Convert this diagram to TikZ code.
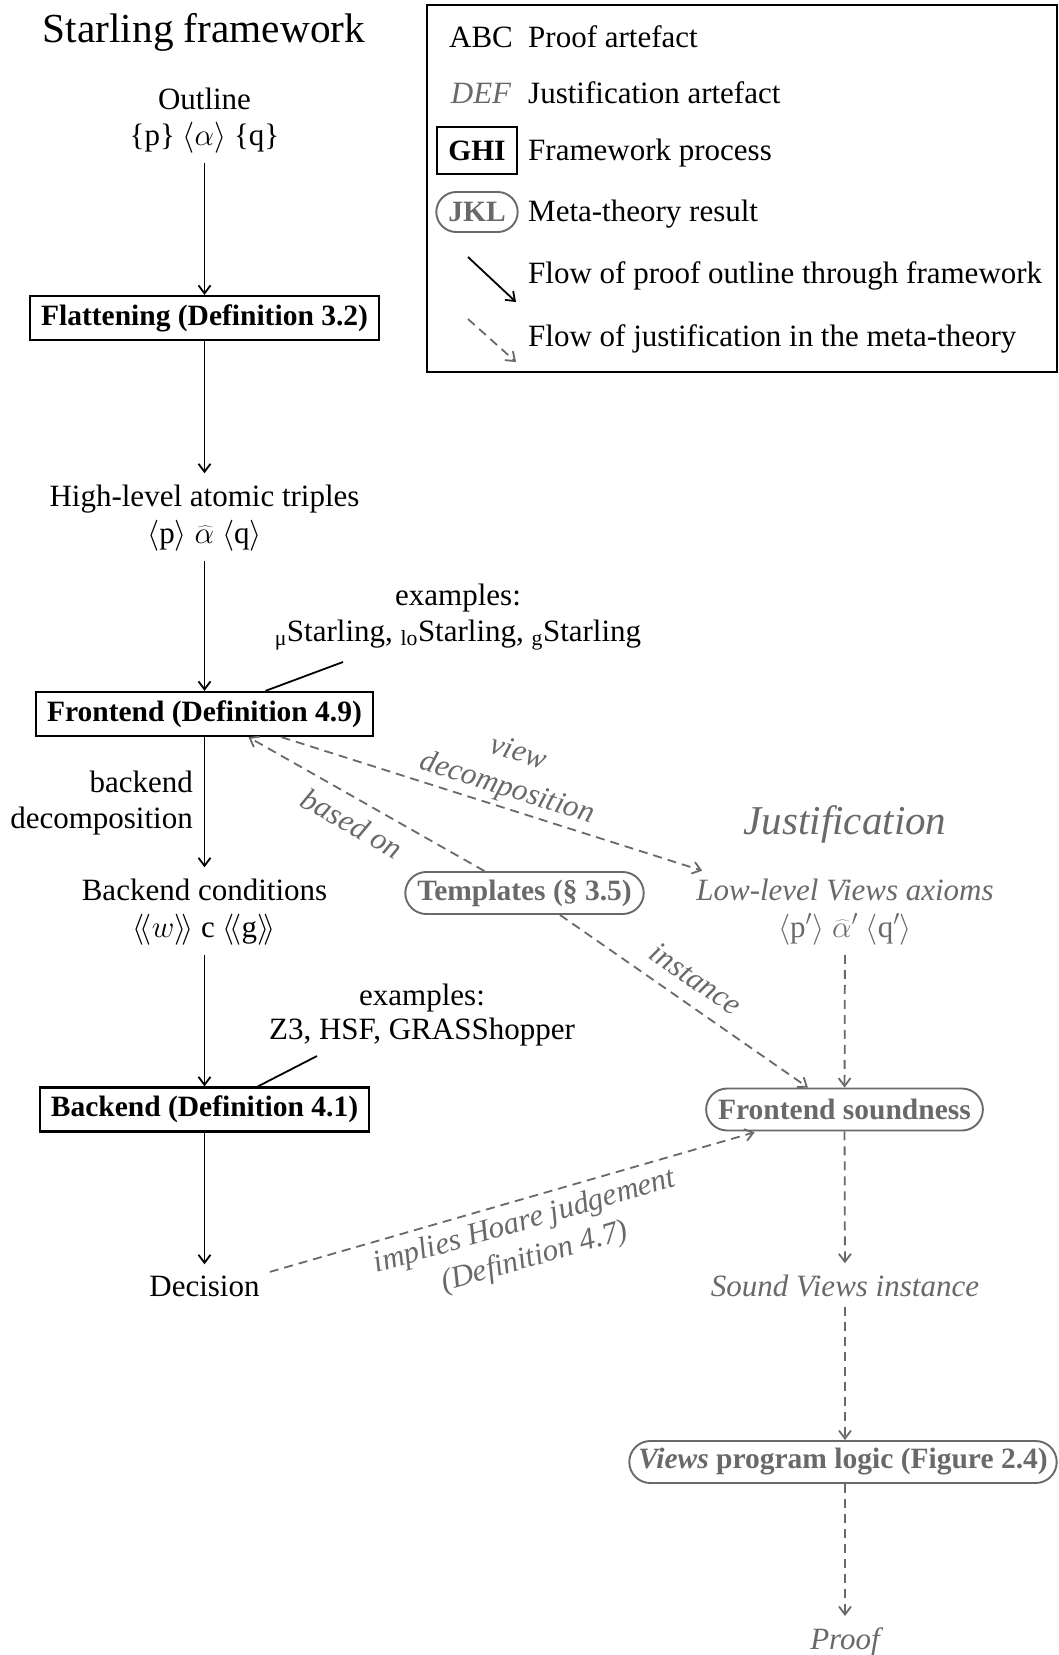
\documentclass[tikz,border=0pt]{standalone}
\usepackage{fix-cm}
\usepackage{fontspec}
\setmainfont{Liberation Serif}
\usetikzlibrary{arrows.meta}
\definecolor{jgray}{RGB}{105,105,105}
\newcommand\bodysize{\fontsize{31}{37}\selectfont}
\newcommand\boxsize{\fontsize{29.5}{35}\selectfont}
\tikzset{
  txt/.style={font=\bodysize, anchor=base, inner xsep=0pt, inner ysep=2pt},
  jtxt/.style={txt, text=jgray, font=\bodysize\itshape},
  procbox/.style={draw, line width=2.3pt, font=\boxsize\bfseries, inner xsep=11pt, inner ysep=6pt, minimum height=44pt},
  metabox/.style={draw=jgray, line width=1.9pt, text=jgray, font=\boxsize\bfseries, rounded corners=21pt, inner xsep=12pt, inner ysep=6pt, minimum height=42pt},
  flow/.style={line width=1.8pt, -{Straight Barb[length=8pt,width=12pt]}},
  jflow/.style={flow, draw=jgray, dash pattern=on 9pt off 6pt},
  fromtext/.style={shorten <=8pt},
  totext/.style={shorten >=9pt},
  elabel/.style={font=\bodysize\itshape, text=jgray, align=center, sloped, inner sep=2pt},
  pointer/.style={line width=1.8pt},
}
\begin{document}
\begin{tikzpicture}[x=1pt, y=-1pt]
\useasboundingbox (0,0) rectangle (1059,1655);

% ---------- legend ----------
\node[draw, line width=2pt, minimum width=630pt, minimum height=367pt, inner sep=0pt] (legend) at (742,188.5) {};
\node[txt] (lgA) at (481,47) {ABC};
\node[jtxt] (lgD) at (481,103) {DEF};
\node[procbox, minimum height=47pt] (lgG) at (477,150.5) {GHI};
\node[metabox, minimum height=40pt, rounded corners=20pt] (lgJ) at (477,212) {JKL};
\coordinate (la1s) at (468,257);
\coordinate (la1e) at (516,302);
\coordinate (la2s) at (468,319);
\coordinate (la2e) at (516,362);
\draw[flow] (la1s) -- (la1e);
\draw[jflow] (la2s) -- (la2e);
\node[txt, anchor=base west] (lt1) at (528,47) {Proof artefact};
\node[txt, anchor=base west] (lt2) at (528,103) {Justification artefact};
\node[txt, anchor=base west] (lt3) at (528,160) {Framework process};
\node[txt, anchor=base west] (lt4) at (528,221) {Meta-theory result};
\node[txt, anchor=base west] (lt5) at (528,283) {Flow of proof outline through framework};
\node[txt, anchor=base west] (lt6) at (528,346) {Flow of justification in the meta-theory};

% ---------- framework column ----------
\node[font=\fontsize{41.3}{48}\selectfont, anchor=base] (title) at (204,42) {Starling framework};
\node[txt] (outline) at (204.5,109) {Outline};
\node[txt] (outlineF) at (204.5,145) {\{p\}~$\langle\alpha\rangle$~\{q\}};
\node[procbox] (flat) at (204.5,318) {Flattening (Definition 3.2)};
\node[txt] (high) at (204.5,506) {High-level atomic triples};
\node[txt] (highF) at (204.5,543) {$\langle$p$\rangle$~$\widehat{\alpha}$~$\langle$q$\rangle$};
\node[txt] (ex1a) at (458,605) {examples:};
\node[txt] (ex1b) at (458,641) {\textsubscript{μ}Starling, \textsubscript{lo}Starling, \textsubscript{g}Starling};
\coordinate (ex1tail) at (343,662);
\node[procbox] (front) at (204.5,714) {Frontend (Definition 4.9)};
\node[txt, anchor=base east] (bd1) at (193,792) {backend};
\node[txt, anchor=base east] (bd2) at (193,828) {decomposition};
\node[txt] (bcond) at (204.5,900) {Backend conditions};
\node[txt] (bcondF) at (204.5,937) {$\langle\!\langle w\rangle\!\rangle$~c~$\langle\!\langle$g$\rangle\!\rangle$};
\node[txt] (ex2a) at (422,1005) {examples:};
\node[txt] (ex2b) at (422,1039) {Z3, HSF, GRASShopper};
\coordinate (ex2tail) at (317,1056);
\node[procbox] (back) at (204.5,1109.5) {Backend (Definition 4.1)};
\node[txt] (decision) at (204.5,1296) {Decision};

\draw[flow, fromtext] (outlineF) -- (flat);
\draw[flow, totext] (flat) -- (high);
\draw[flow, fromtext] (highF) -- (front);
\draw[flow, totext] (front) -- (bcond);
\draw[flow, fromtext] (bcondF) -- (back);
\draw[flow, totext] (back) -- (decision);
\draw[pointer] (ex1tail) -- ([xshift=61pt]front.north);
\draw[pointer] (ex2tail) -- ([xshift=53.5pt]back.north);

% ---------- justification column ----------
\node[jtxt, font=\fontsize{41}{47}\selectfont\itshape] (just) at (845,834) {Justification};
\node[jtxt] (low) at (845,900) {Low-level Views axioms};
\node[txt, text=jgray] (lowF) at (845,937) {$\langle$p$'\rangle$~$\widehat{\alpha}'$~$\langle$q$'\rangle$};
\node[metabox] (templ) at (524.5,893) {Templates (§ 3.5)};
\node[metabox] (fsound) at (844.5,1109.5) {Frontend soundness};
\node[jtxt] (sound) at (845,1296) {Sound Views instance};
\node[metabox, inner xsep=9pt] (views) at (843,1462) {\textit{Views} program logic (Figure 2.4)};
\node[jtxt] (proof) at (845,1649) {Proof};

\draw[jflow, fromtext] (lowF) -- (fsound);
\draw[jflow, totext] (fsound) -- (sound);
\draw[jflow, fromtext] (sound.south) -- (sound.south |- views.north);
\draw[jflow, totext] (proof.north |- views.south) -- (proof.north);

\draw[jflow, shorten >=2pt] ([xshift=77pt]front.south) -- ([xshift=8pt,yshift=5pt]low.north west)
  node[elabel, above, pos=0.52, inner sep=4pt] {view\\decomposition};
\draw[jflow] ([xshift=-40pt]templ.north) -- ([xshift=44pt]front.south)
  node[elabel, below, pos=0.51, inner sep=12pt] {based on};
\draw[jflow] ([xshift=35.5pt]templ.south) -- ([xshift=-36.5pt]fsound.north)
  node[elabel, above, pos=0.49, inner sep=14pt] {instance};
\draw[jflow, shorten >=3pt] ([xshift=10pt,yshift=14pt]decision.east) -- ([xshift=-87pt]fsound.south)
  node[elabel, below, pos=0.51, inner sep=8pt] {implies Hoare judgement\\(Definition 4.7)};
\end{tikzpicture}
\end{document}
